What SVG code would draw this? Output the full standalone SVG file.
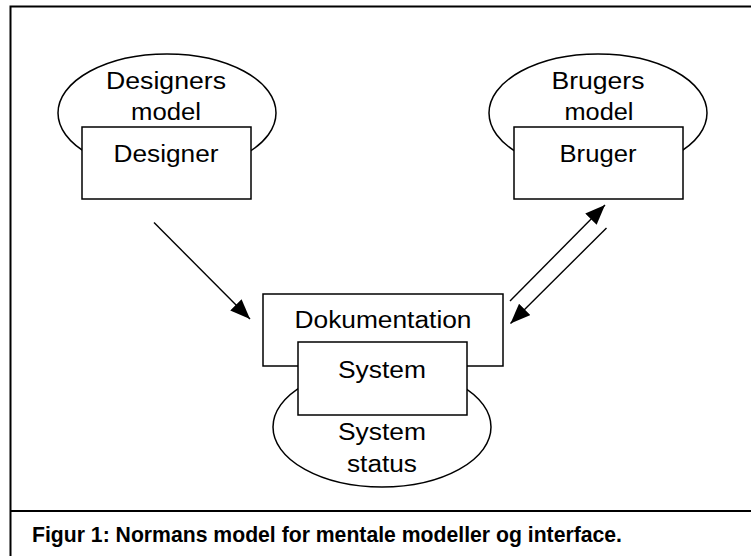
<svg xmlns="http://www.w3.org/2000/svg" width="751" height="556" viewBox="0 0 751 556">
  <style>
    .shape { fill: #ffffff; stroke: #000000; stroke-width: 1.5; }
    .lbl { font-family: "Liberation Sans", Arial, sans-serif; font-size: 23px; fill: #000000; text-anchor: middle; }
    .cap { font-family: "Liberation Sans", Arial, sans-serif; font-size: 21.5px; font-weight: bold; fill: #000000; }
    .conn { stroke: #000000; stroke-width: 1.4; fill: none; marker-end: url(#arrow); }
  </style>
  <defs>
    <marker id="arrow" viewBox="0 0 20 16" refX="20" refY="8" markerWidth="20" markerHeight="16" markerUnits="userSpaceOnUse" orient="auto">
      <path d="M0,0 L20,8 L0,16 z" fill="#000000"/>
    </marker>
  </defs>
  <rect x="0" y="0" width="751" height="556" fill="#ffffff"/>
  <g id="frame">
    <rect x="10.5" y="6.5" width="760" height="580" fill="none" stroke="#000000" stroke-width="2"/>
    <line x1="10" y1="511" x2="751" y2="511" stroke="#000000" stroke-width="2"/>
  </g>
  <g id="designer">
    <ellipse class="shape" cx="167" cy="113" rx="109" ry="59"/>
    <text class="lbl" x="166" y="88.5" textLength="120" lengthAdjust="spacingAndGlyphs">Designers</text>
    <text class="lbl" x="166" y="120" textLength="70" lengthAdjust="spacingAndGlyphs">model</text>
    <rect class="shape" x="82" y="127" width="169" height="72"/>
    <text class="lbl" x="166" y="162" textLength="105" lengthAdjust="spacingAndGlyphs">Designer</text>
  </g>
  <g id="bruger">
    <ellipse class="shape" cx="598" cy="113" rx="109" ry="59"/>
    <text class="lbl" x="598" y="89" textLength="93" lengthAdjust="spacingAndGlyphs">Brugers</text>
    <text class="lbl" x="599" y="120" textLength="69" lengthAdjust="spacingAndGlyphs">model</text>
    <rect class="shape" x="514" y="127" width="169" height="72"/>
    <text class="lbl" x="598" y="162" textLength="77" lengthAdjust="spacingAndGlyphs">Bruger</text>
  </g>
  <g id="system">
    <rect class="shape" x="263" y="294" width="240" height="72"/>
    <text class="lbl" x="383" y="328" textLength="177" lengthAdjust="spacingAndGlyphs">Dokumentation</text>
    <ellipse class="shape" cx="382" cy="427" rx="109" ry="60"/>
    <rect class="shape" x="298" y="342" width="169" height="73"/>
    <text class="lbl" x="382" y="377.5" textLength="88" lengthAdjust="spacingAndGlyphs">System</text>
    <text class="lbl" x="382" y="440" textLength="88" lengthAdjust="spacingAndGlyphs">System</text>
    <text class="lbl" x="382" y="471.5" textLength="70" lengthAdjust="spacingAndGlyphs">status</text>
  </g>
  <g id="connectors">
    <line class="conn" x1="154" y1="222.5" x2="250" y2="319"/>
    <line class="conn" x1="510" y1="301" x2="605" y2="205"/>
    <line class="conn" x1="606.5" y1="228" x2="510.5" y2="323.5"/>
  </g>
  <g id="caption">
    <text class="cap" x="32" y="542" textLength="590" lengthAdjust="spacingAndGlyphs">Figur 1: Normans model for mentale modeller og interface.</text>
  </g>
</svg>
